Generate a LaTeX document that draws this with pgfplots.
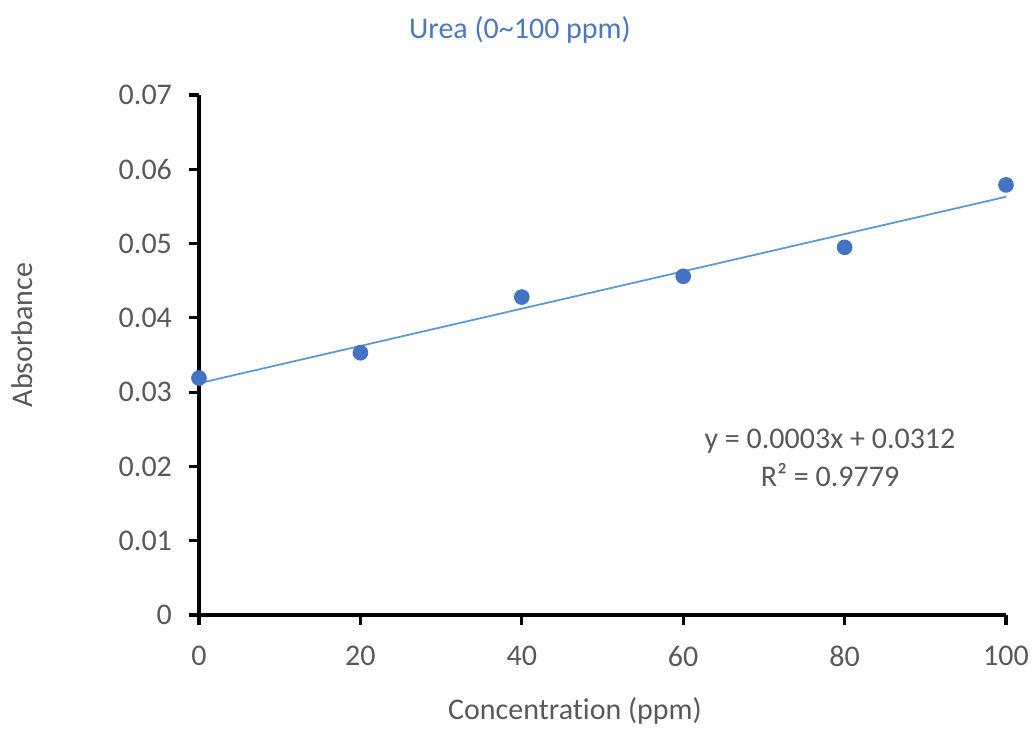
\documentclass[border=0pt]{standalone}
\usepackage{pgfplots}
\pgfplotsset{compat=1.18}
\usepackage{fontspec}
\setmainfont{Carlito}[Ligatures=NoCommon]
\definecolor{ptblue}{HTML}{4472C4}
\definecolor{trendblue}{HTML}{5B9BD5}
\definecolor{titleblue}{HTML}{4A78C2}
\definecolor{txtgray}{HTML}{595959}
\begin{document}
\begin{tikzpicture}
\begin{axis}[
    scale only axis,
    width=403.5pt,
    height=260pt,
    xmin=0, xmax=100,
    ymin=0, ymax=0.07,
    xtick={0,20,...,100},
    ytick={0,0.01,...,0.07},
    axis x line*=bottom,
    axis y line*=left,
    x axis line style={black, line width=1.6pt},
    y axis line style={black, line width=1.6pt},
    tick style={black, line width=1.6pt},
    tick align=outside,
    major tick length=5pt,
    /pgf/number format/assume math mode=true,
    scaled y ticks=false,
    yticklabel style={/pgf/number format/fixed, /pgf/number format/precision=2, xshift=-5pt},
    xticklabel style={yshift=-7pt},
    ticklabel style={font=\fontsize{15}{18}\selectfont, text=txtgray},
    clip=false,
]
\addplot[trendblue, line width=0.9pt, no markers] coordinates {
    (0,0.0312) (100,0.0563)
};
\addplot[only marks, mark=*, mark size=3.7pt, ptblue, mark options={draw=ptblue, fill=ptblue}] coordinates {
    (0,0.0319) (20,0.0353) (40,0.0428) (60,0.0456) (80,0.0495) (100,0.0579)
};
\end{axis}
\node[text=titleblue, font=\fontsize{15}{18}\selectfont] at (160.5pt,292.5pt) {Urea (0\textasciitilde100 ppm)};
\node[text=txtgray, font=\fontsize{15}{18}\selectfont, rotate=90] at (-88.5pt,140pt) {Absorbance};
\node[text=txtgray, font=\fontsize{15}{18}\selectfont] at (188pt,-48pt) {Concentration (ppm)};
\node[text=txtgray, font=\fontsize{15}{18}\selectfont, align=center] at (315.5pt,78.5pt) {y = 0.0003x + 0.0312\\[1pt]R² = 0.9779};
\pgfresetboundingbox
\path (-99.5pt,-56.5pt) rectangle (417pt,307.5pt);
\end{tikzpicture}
\end{document}
